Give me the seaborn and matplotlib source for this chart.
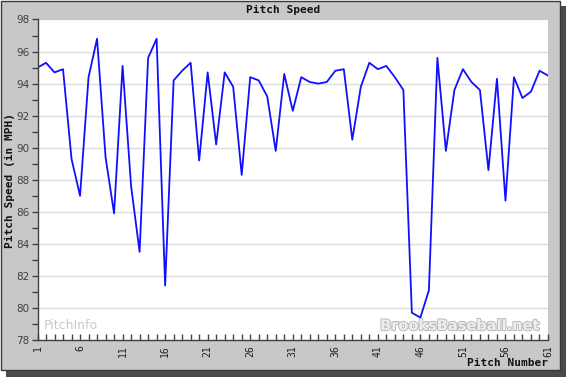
import matplotlib
matplotlib.use("Agg")
import matplotlib.pyplot as plt
import matplotlib.patheffects as pe
from matplotlib.patches import Rectangle
from matplotlib.ticker import MultipleLocator, FixedLocator
import seaborn as sns
import pandas as pd

# pitch speeds (mph), pitch 1..61
pitch_number = list(range(1, 62))
pitch_speed = [
    95.0, 95.3, 94.7, 94.9, 89.3, 87.0, 94.4, 96.8, 89.4, 85.9,
    95.1, 87.6, 83.5, 95.6, 96.8, 81.4, 94.2, 94.8, 95.3, 89.2,
    94.7, 90.2, 94.7, 93.8, 88.3, 94.4, 94.2, 93.2, 89.8, 94.6,
    92.3, 94.4, 94.1, 94.0, 94.1, 94.8, 94.9, 90.5, 93.8, 95.3,
    94.9, 95.1, 94.4, 93.6, 79.7, 79.4, 81.1, 95.6, 89.8, 93.6,
    94.9, 94.1, 93.6, 88.6, 94.3, 86.7, 94.4, 93.1, 93.5, 94.8,
    94.5,
]
x_tick_labels = [1, 6, 11, 16, 21, 26, 31, 36, 41, 46, 51, 56, 61]
y_tick_labels = [78, 80, 82, 84, 86, 88, 90, 92, 94, 96, 98]

df = pd.DataFrame({"pitch": pitch_number, "speed": pitch_speed})

sns.set_theme(style="white")
plt.rcParams["font.family"] = ["DejaVu Sans"]

W, H = 566, 377
fig = plt.figure(figsize=(W / 100, H / 100), dpi=100, facecolor="white")

def px_rect(x0, y0, x1, y1, **kw):
    # pixel box (top-down) -> figure fraction rectangle
    return Rectangle((x0 / W, 1 - y1 / H), (x1 - x0) / W, (y1 - y0) / H,
                     transform=fig.transFigure, **kw)

# drop shadow and grey panel
fig.patches.append(px_rect(6, 6, 566, 377, facecolor="#4a4a4a", edgecolor="none", zorder=0))
fig.patches.append(px_rect(0.5, 0.5, 560, 370, facecolor="#c8c8c8", edgecolor="#3a3a3a",
                           linewidth=1, zorder=1))

ax = fig.add_axes([37.5 / W, 1 - 340 / H, (548 - 37.5) / W, (340 - 19.5) / H])
ax.set_facecolor("white")
ax.set_zorder(2)

sns.lineplot(data=df, x="pitch", y="speed", ax=ax, color="#1010ff", linewidth=1.3)

ax.set_xlim(1, 61)
ax.set_ylim(78, 98)

ax.yaxis.set_major_locator(FixedLocator(y_tick_labels))
ax.yaxis.set_minor_locator(MultipleLocator(1))
ax.xaxis.set_major_locator(FixedLocator(x_tick_labels))
ax.xaxis.set_minor_locator(MultipleLocator(1))

ax.grid(axis="y", which="major", color="#dcdcdc", linewidth=1)
ax.set_axisbelow(True)

for s in ["top", "right"]:
    ax.spines[s].set_visible(False)
for s in ["left", "bottom"]:
    ax.spines[s].set_color("#404040")
    ax.spines[s].set_linewidth(1)

ax.tick_params(axis="y", which="both", direction="out", left=True, color="#404040",
               width=1, labelsize=7.5, labelcolor="#404040", pad=2)
ax.tick_params(axis="y", which="major", length=4)
ax.tick_params(axis="y", which="minor", length=4)
ax.tick_params(axis="x", which="both", direction="in", bottom=True, color="#404040",
               width=1, length=4)
ax.tick_params(axis="x", which="major", labelsize=7, labelcolor="#202020",
               labelrotation=90, pad=4)
for lab in ax.get_xticklabels():
    lab.set_family("DejaVu Sans Mono")

ax.set_xlabel("")
ax.set_ylabel("")

mono = dict(family="DejaVu Sans Mono", weight="bold", color="#111111")
fig.text(283 / W, 1 - 10 / H, "Pitch Speed", ha="center", va="center", fontsize=8, **mono)
fig.text(548 / W, 1 - 363 / H, "Pitch Number", ha="right", va="center", fontsize=8, **mono)
fig.text(10 / W, 1 - 180 / H, "Pitch Speed (in MPH)", ha="center", va="center",
         rotation=90, fontsize=8, **mono)

# watermarks
ax.text(0.012, 0.045, "PitchInfo", transform=ax.transAxes, fontsize=9,
        color="#c8c8c8", ha="left", va="center")
ax.text(0.985, 0.045, "BrooksBaseball.net", transform=ax.transAxes, fontsize=10.5,
        weight="bold", color="#eeeeee", ha="right", va="center",
        path_effects=[pe.withStroke(linewidth=1.5, foreground="#bdbdbd")])

fig.savefig("out.png", dpi=100, facecolor="white")
